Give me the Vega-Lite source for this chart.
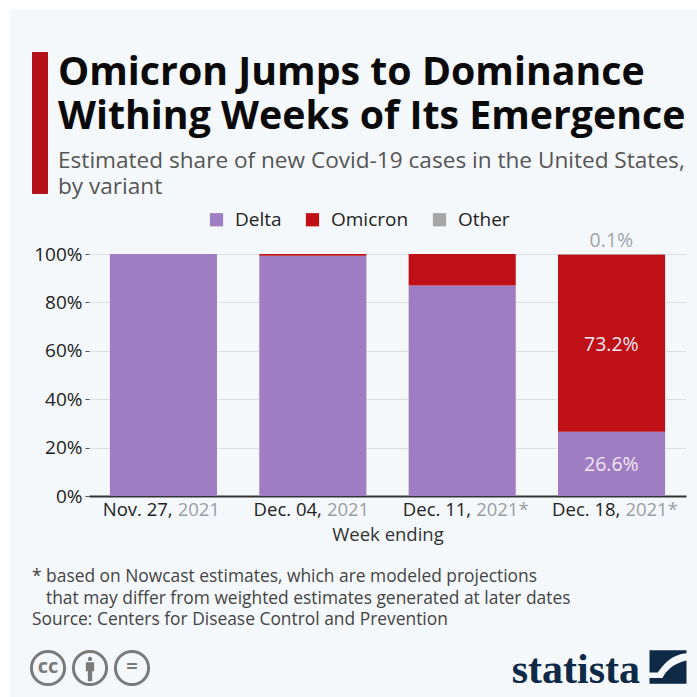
{
"$schema":"https://vega.github.io/schema/vega-lite/v6.json",
"width":687,"height":687,
"padding":{"left":10,"top":10,"right":0,"bottom":0},
"autosize":{"type":"none"},
"background":"white",
"config":{"view":{"fill":"#f5f8fb","stroke":null},"font":"Open Sans"},
"datasets":{
"shares":[
{"week":"Nov. 27","variant":"Delta","share":100,"rank":1},
{"week":"Dec. 04","variant":"Delta","share":99.3,"rank":1},
{"week":"Dec. 04","variant":"Omicron","share":0.7,"rank":2},
{"week":"Dec. 11","variant":"Delta","share":87,"rank":1},
{"week":"Dec. 11","variant":"Omicron","share":13,"rank":2},
{"week":"Dec. 18","variant":"Delta","share":26.6,"rank":1},
{"week":"Dec. 18","variant":"Omicron","share":73.2,"rank":2},
{"week":"Dec. 18","variant":"Other","share":0.2,"rank":3}
],
"labels":[
{"week":"Dec. 18","variant":"Delta","at":12.8,"label":"26.6%"},
{"week":"Dec. 18","variant":"Omicron","at":62.2,"label":"73.2%"},
{"week":"Dec. 18","variant":"Other","at":105.2,"label":"0.1%"}
],
"weeks":[
{"week":"Nov. 27","date":"Nov. 27,","year":"2021"},
{"week":"Dec. 04","date":"Dec. 04,","year":"2021"},
{"week":"Dec. 11","date":"Dec. 11,","year":"2021*"},
{"week":"Dec. 18","date":"Dec. 18,","year":"2021*"}
]
},
"resolve":{"scale":{"x":"independent","y":"independent"},"axis":{"x":"independent","y":"independent"}},
"layer":[
{"data":{"name":"shares"},"mark":{"type":"bar"},
"encoding":{
"x":{"field":"week","type":"nominal","sort":["Nov. 27","Dec. 04","Dec. 11","Dec. 18"],
"scale":{"range":[79,676],"paddingInner":0.283,"paddingOuter":0.14},
"axis":{"orient":"bottom","offset":-201,"labels":false,"ticks":false,"grid":false,"domainColor":"#333333","domainWidth":2,"title":"Week ending","titleFont":"Open Sans","titleFontSize":18.5,"titleFontWeight":"normal","titleColor":"#333333","titlePadding":29}},
"y":{"field":"share","type":"quantitative","stack":"zero",
"scale":{"domain":[0,100],"range":[486,244],"nice":false},
"axis":{"orient":"left","offset":-79,"values":[0,20,40,60,80,100],"labelExpr":"datum.value + '%'","title":null,"domain":false,"tickSize":4,"tickColor":"#555555","labelPadding":3,"labelFont":"Open Sans","labelFontSize":19,"labelColor":"#222222","grid":true,"gridColor":"#dcdfe4"}},
"color":{"field":"variant","type":"nominal","scale":{"domain":["Delta","Omicron","Other"],"range":["#9f7dc3","#be1016","#a6a6a6"]},
"legend":{"orient":"none","legendX":197,"legendY":200,"direction":"horizontal","title":null,"symbolType":"square","symbolSize":175,"symbolStrokeWidth":0,"labelFont":"Open Sans","labelFontSize":19,"labelColor":"#222222","labelOffset":9,"columnPadding":21}},
"order":{"field":"rank","type":"quantitative"}
}},
{"data":{"name":"labels"},"mark":{"type":"text","fontSize":19.5,"baseline":"middle"},
"encoding":{
"x":{"field":"week","type":"nominal","sort":["Nov. 27","Dec. 04","Dec. 11","Dec. 18"],"scale":{"domain":["Nov. 27","Dec. 04","Dec. 11","Dec. 18"],"range":[79,676],"paddingInner":0.283,"paddingOuter":0.14},"axis":null},
"y":{"field":"at","type":"quantitative","scale":{"domain":[0,100],"range":[486,244],"nice":false},"axis":null},
"text":{"field":"label"},
"color":{"condition":{"test":"datum.variant === 'Other'","value":"#a0a4a8"},"value":"#efe6f0"}
}},
{"data":{"name":"weeks"},"mark":{"type":"text","fontSize":18.5,"align":"right","baseline":"alphabetic","xOffset":9,"color":"#222222"},
"encoding":{
"x":{"field":"week","type":"nominal","sort":["Nov. 27","Dec. 04","Dec. 11","Dec. 18"],"scale":{"domain":["Nov. 27","Dec. 04","Dec. 11","Dec. 18"],"range":[79,676],"paddingInner":0.283,"paddingOuter":0.14},"axis":null},
"y":{"datum":-8.3,"scale":{"domain":[0,100],"range":[486,244],"nice":false},"axis":null},
"text":{"field":"date"}
}},
{"data":{"name":"weeks"},"mark":{"type":"text","fontSize":18.5,"align":"left","baseline":"alphabetic","xOffset":14,"color":"#9a9ea3"},
"encoding":{
"x":{"field":"week","type":"nominal","sort":["Nov. 27","Dec. 04","Dec. 11","Dec. 18"],"scale":{"domain":["Nov. 27","Dec. 04","Dec. 11","Dec. 18"],"range":[79,676],"paddingInner":0.283,"paddingOuter":0.14},"axis":null},
"y":{"datum":-8.3,"scale":{"domain":[0,100],"range":[486,244],"nice":false},"axis":null},
"text":{"field":"year"}
}},
{"data":{"values":[{"block":"accent"}]},"mark":{"type":"rect","color":"#b5111a","cornerRadius":1},
"encoding":{
"x":{"datum":0,"scale":{"domain":[0,1],"range":[22,38]},"axis":null},"x2":{"datum":1},
"y":{"datum":0,"scale":{"domain":[0,1],"range":[42,184]},"axis":null},"y2":{"datum":1}
}},
{"data":{"values":[{"line":1,"text":"Omicron Jumps to Dominance"},{"line":2,"text":"Withing Weeks of Its Emergence"}]},
"mark":{"type":"text","font":"Open Sans","fontWeight":"bold","fontSize":39.3,"align":"left","baseline":"alphabetic","color":"#0a0a0a"},
"encoding":{
"x":{"datum":0,"scale":{"domain":[0,1],"range":[48,49]},"axis":null},
"y":{"field":"line","type":"quantitative","scale":{"domain":[1,2],"range":[75,119]},"axis":null},
"text":{"field":"text"}
}},
{"data":{"values":[{"line":1,"text":"Estimated share of new Covid-19 cases in the United States,"},{"line":2,"text":"by variant"}]},
"mark":{"type":"text","fontSize":22.6,"align":"left","baseline":"alphabetic","color":"#555555"},
"encoding":{
"x":{"datum":0,"scale":{"domain":[0,1],"range":[48,49]},"axis":null},
"y":{"field":"line","type":"quantitative","scale":{"domain":[1,2],"range":[158,184]},"axis":null},
"text":{"field":"text"}
}},
{"data":{"values":[{"line":1,"indent":0,"text":"* based on Nowcast estimates, which are modeled projections"},{"line":2,"indent":1,"text":"that may differ from weighted estimates generated at later dates"},{"line":3,"indent":0,"text":"Source: Centers for Disease Control and Prevention"}]},
"mark":{"type":"text","fontSize":17.4,"align":"left","baseline":"alphabetic","color":"#444444"},
"encoding":{
"x":{"field":"indent","type":"quantitative","scale":{"domain":[0,1],"range":[22,36]},"axis":null},
"y":{"field":"line","type":"quantitative","scale":{"domain":[1,3],"range":[572,615]},"axis":null},
"text":{"field":"text"}
}},
{"data":{"values":[{"icon":0},{"icon":1},{"icon":2}]},
"mark":{"type":"point","shape":"circle","filled":false,"stroke":"#7a7a7a","strokeWidth":3,"size":1100,"opacity":1},
"encoding":{
"x":{"field":"icon","type":"quantitative","scale":{"domain":[0,2],"range":[38,122]},"axis":null},
"y":{"datum":0,"scale":{"domain":[0,1],"range":[658,600]},"axis":null}
}},
{"data":{"values":[{"icon":0,"glyph":"cc"},{"icon":2,"glyph":"="}]},
"mark":{"type":"text","fontWeight":"bold","fontSize":20,"baseline":"middle","color":"#7a7a7a"},
"encoding":{
"x":{"field":"icon","type":"quantitative","scale":{"domain":[0,2],"range":[38,122]},"axis":null},
"y":{"datum":0,"scale":{"domain":[0,1],"range":[657,600]},"axis":null},
"text":{"field":"glyph"}
}},
{"data":{"values":[{"icon":1}]},
"mark":{"type":"point","filled":true,"fill":"#7a7a7a","strokeWidth":0,"opacity":1,"size":1100,"shape":"M-0.13,-0.55a0.13,0.13 0 1,0 0.26,0a0.13,0.13 0 1,0 -0.26,0Z M-0.25,-0.35H0.25V0.2H0.13V0.8H-0.13V0.2H-0.25Z"},
"encoding":{
"x":{"field":"icon","type":"quantitative","scale":{"domain":[0,2],"range":[38,122]},"axis":null},
"y":{"datum":0,"scale":{"domain":[0,1],"range":[658,600]},"axis":null}
}},
{"data":{"values":[{"brand":"statista"}]},
"mark":{"type":"text","font":"Liberation Sans Narrow","fontWeight":"bold","fontSize":42,"align":"right","baseline":"alphabetic","color":"#0f2a47"},
"encoding":{
"x":{"datum":0,"scale":{"domain":[0,1],"range":[630,631]},"axis":null},
"y":{"datum":0,"scale":{"domain":[0,1],"range":[673,600]},"axis":null},
"text":{"field":"brand"}
}},
{"data":{"values":[{"brand":"statista"}]},
"mark":{"type":"point","filled":true,"fill":"#0f2a47","strokeWidth":0,"opacity":1,"size":1369,"shape":"M-1,-0.9H1V-0.75C0.2,-0.7 -0.3,-0.1 -0.55,0.3H-1Z M1,-0.35V0.9H-1V0.6H-0.3C-0.1,0.2 0.3,-0.2 1,-0.35Z"},
"encoding":{
"x":{"datum":0,"scale":{"domain":[0,1],"range":[658,659]},"axis":null},
"y":{"datum":0,"scale":{"domain":[0,1],"range":[657,600]},"axis":null}
}}
]
}
